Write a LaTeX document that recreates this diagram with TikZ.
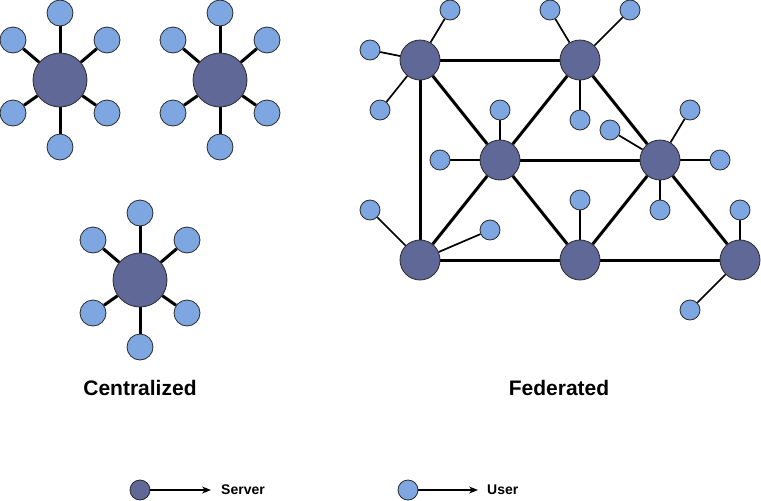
\documentclass[tikz,border=0pt]{standalone}
\usepackage{fontspec}
\setmainfont{Liberation Sans}
\usetikzlibrary{arrows.meta,backgrounds}
\definecolor{srvfill}{HTML}{5F6896}
\definecolor{usrfill}{HTML}{7EA6E0}
\definecolor{rim}{HTML}{2A2A2A}
\tikzset{
  bigsrv/.style={circle,draw=rim,line width=0.8pt,fill=srvfill,minimum size=54pt,inner sep=0pt},
  bigusr/.style={circle,draw=rim,line width=0.8pt,fill=usrfill,minimum size=26pt,inner sep=0pt},
  srv/.style={circle,draw=rim,line width=0.8pt,fill=srvfill,minimum size=40pt,inner sep=0pt},
  usr/.style={circle,draw=rim,line width=0.8pt,fill=usrfill,minimum size=20pt,inner sep=0pt},
  spoke/.style={line width=3pt,black},
  link/.style={line width=3pt,black},
  ulink/.style={line width=1.7pt,black},
  captxt/.style={font=\bfseries\fontsize{21}{24}\selectfont,inner sep=0pt},
  legtxt/.style={font=\bfseries\fontsize{14}{16}\selectfont,inner sep=0pt,anchor=west},
  legarrow/.style={line width=1.2pt,-{Stealth[length=9pt,width=7pt]}}
}
\begin{document}
\begin{tikzpicture}[x=1pt,y=-1pt]
\useasboundingbox (0,0) rectangle (761,501);
% centralized stars
\foreach \k/\cx/\cy in {a/60/80,b/220/80,c/140/280}{
  \node[bigsrv] (\k0) at (\cx,\cy) {};
  \node[bigusr] (\k1) at (\cx,\cy-67) {};
  \node[bigusr] (\k2) at (\cx-47,\cy-40) {};
  \node[bigusr] (\k3) at (\cx+47,\cy-40) {};
  \node[bigusr] (\k4) at (\cx-47,\cy+33) {};
  \node[bigusr] (\k5) at (\cx+47,\cy+33) {};
  \node[bigusr] (\k6) at (\cx,\cy+67) {};
  \begin{scope}[on background layer]
    \foreach \j in {1,...,6}{\draw[spoke] (\k0) -- (\k\j);}
  \end{scope}
}
% federated servers
\node[srv] (s1) at (420,60) {};
\node[srv] (s2) at (580,60) {};
\node[srv] (s3) at (500,160) {};
\node[srv] (s4) at (660,160) {};
\node[srv] (s5) at (420,260) {};
\node[srv] (s6) at (580,260) {};
\node[srv] (s7) at (740,260) {};
% federated users
\node[usr] (u1) at (450,10) {};
\node[usr] (u2) at (370,50) {};
\node[usr] (u3) at (380,110) {};
\node[usr] (u4) at (550,10) {};
\node[usr] (u5) at (630,10) {};
\node[usr] (u6) at (580,120) {};
\node[usr] (u7) at (500,110) {};
\node[usr] (u8) at (440,160) {};
\node[usr] (u9) at (610,130) {};
\node[usr] (u10) at (690,110) {};
\node[usr] (u11) at (720,160) {};
\node[usr] (u12) at (660,210) {};
\node[usr] (u13) at (370,210) {};
\node[usr] (u14) at (490,230) {};
\node[usr] (u15) at (580,200) {};
\node[usr] (u16) at (740,210) {};
\node[usr] (u17) at (690,310) {};
\begin{scope}[on background layer]
  \foreach \a/\b in {s1/s2,s1/s3,s1/s5,s2/s3,s2/s4,s3/s4,s3/s5,s3/s6,s4/s6,s4/s7,s5/s6,s6/s7}
    {\draw[link] (\a) -- (\b);}
  \foreach \a/\b in {s1/u1,s1/u2,s1/u3,s2/u4,s2/u5,s2/u6,s3/u7,s3/u8,s4/u9,s4/u10,s4/u11,s4/u12,s5/u13,s5/u14,s6/u15,s7/u16,s7/u17}
    {\draw[ulink] (\a) -- (\b);}
\end{scope}
% captions
\node[captxt] (capc) at (140,388) {Centralized};
\node[captxt] (capf) at (559,388) {Federated};
% legend
\node[usr,fill=srvfill] (ls) at (140,490) {};
\coordinate (lsend) at (211,490);
\draw[legarrow] (ls) -- (lsend);
\node[legtxt] (lst) at (221,490) {Server};
\node[usr] (lu) at (408,490) {};
\coordinate (luend) at (478,490);
\draw[legarrow] (lu) -- (luend);
\node[legtxt] (lut) at (487,490) {User};
\end{tikzpicture}
\end{document}
